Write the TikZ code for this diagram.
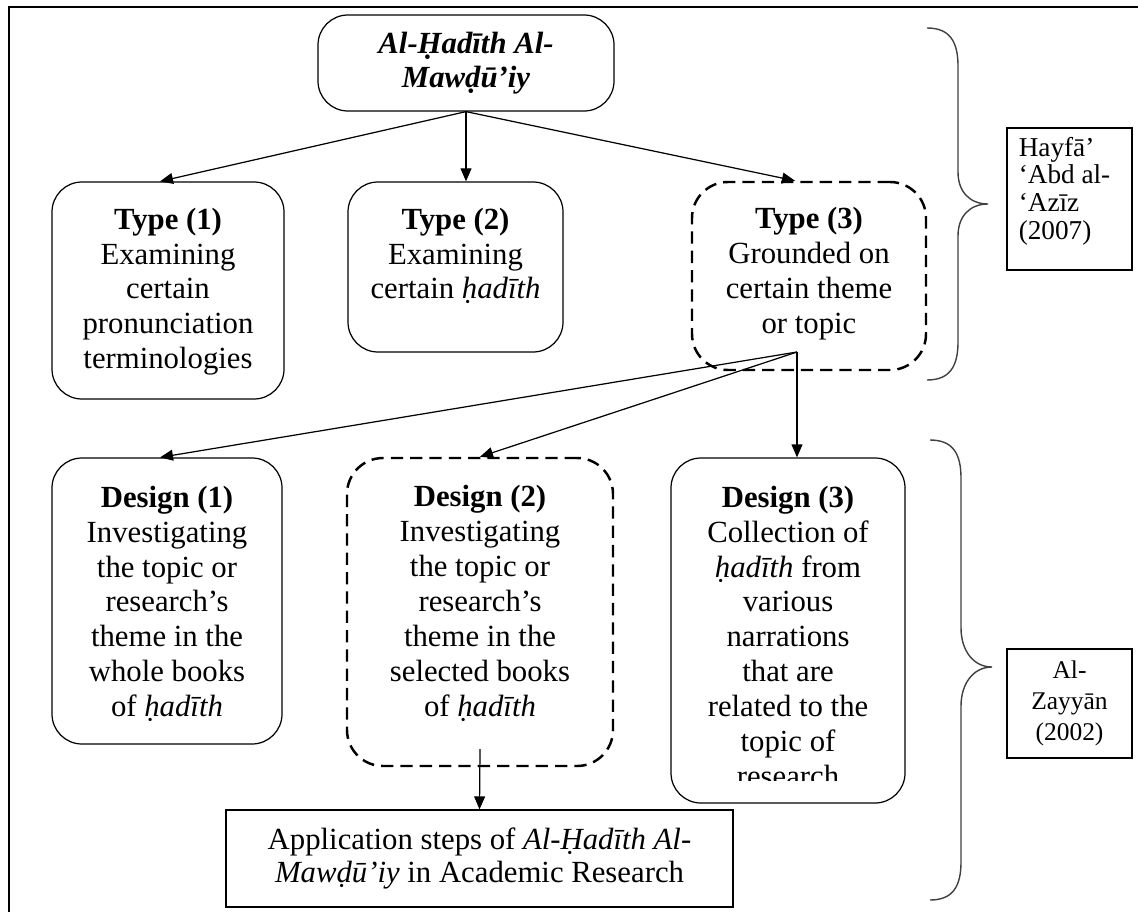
\documentclass[tikz,border=0pt]{standalone}
\usepackage{fontspec}
\setmainfont{Liberation Serif}
\usetikzlibrary{arrows.meta,positioning}
\newlength\pxu
\setlength\pxu{0.02cm}

\tikzset{
  box/.style={draw,line width=0.7pt,rounded corners=30\pxu,inner sep=0pt},
  dashbox/.style={box,line width=1.4pt,dash pattern=on 7pt off 4pt,rounded corners=36\pxu},
  txt/.style={align=center,inner sep=0pt,font=\fontsize{17.5}{19.9}\selectfont},
  citebox/.style={draw,line width=0.7pt,inner sep=0pt},
  citetxt/.style={inner sep=0pt,font=\fontsize{15.5}{15.8}\selectfont},
  link/.style={-{Triangle[length=7.4pt,width=6.2pt]},line width=0.7pt},
  brace/.style={line width=0.8pt,draw=black!75},
}

\begin{document}
\begin{tikzpicture}[x=0.02cm,y=-0.02cm]
\useasboundingbox (0,0) rectangle (1138,912);
% frame, open at right and bottom
\draw[line width=1.3pt] (9,912) -- (9,7) -- (1138,7);

% top of the tree
\node[box,minimum width=296\pxu,minimum height=96\pxu,align=center,
  font=\fontsize{17.5}{19.5}\selectfont\bfseries\itshape] (root) at (466,63) {Al-Ḥadīth Al-\\Mawḍū’iy};

% the three types
\node[box,minimum width=232\pxu,minimum height=217\pxu] (t1) at (168,290.5) {};
\node[txt,below=26\pxu of t1.north] (t1txt) {\textbf{Type (1)}\\Examining\\certain\\pronunciation\\terminologies};
\node[box,minimum width=215\pxu,minimum height=170\pxu] (t2) at (455.5,267) {};
\node[txt,below=26\pxu of t2.north] (t2txt) {\textbf{Type (2)}\\Examining\\certain \textit{ḥadīth}};
\node[dashbox,minimum width=234\pxu,minimum height=188\pxu] (t3) at (809,276) {};
\node[txt,below=26\pxu of t3.north] (t3txt) {\textbf{Type (3)}\\Grounded on\\certain theme\\or topic};

\draw[link] (root.south) -- ([xshift=-0.16cm]t1.north);
\draw[link] (root.south) -- (root.south |- t2.north);
\draw[link] (root.south) -- ([xshift=-0.28cm]t3.north);

% the three designs
\node[box,minimum width=230\pxu,minimum height=286\pxu] (d1) at (167,601) {};
\node[txt,below=28\pxu of d1.north] (d1txt) {\textbf{Design (1)}\\Investigating\\the topic or\\research’s\\theme in the\\whole books\\of \textit{ḥadīth}};
\node[dashbox,minimum width=266\pxu,minimum height=308\pxu] (d2) at (480,612) {};
\node[txt,below=28\pxu of d2.north] (d2txt) {\textbf{Design (2)}\\Investigating\\the topic or\\research’s\\theme in the\\selected books\\of \textit{ḥadīth}};
\node[box,minimum width=234\pxu,minimum height=345\pxu] (d3) at (788,630.5) {};
\begin{scope}
\clip (671,458) rectangle (905,780);
\node[txt,below=28\pxu of d3.north] (d3txt) {\textbf{Design (3)}\\Collection of\\\textit{ḥadīth} from\\various\\narrations\\that are\\related to the\\topic of\\research};
\end{scope}

\coordinate (fork) at (797,352);
\draw[link] (fork) -- ([xshift=-0.14cm]d1.north);
\draw[link] (fork) -- (d2.north);
\draw[link] (fork) -- (fork |- d3.north);

% result
\node[draw,line width=0.7pt,minimum width=507\pxu,minimum height=97\pxu,align=center,
  font=\fontsize{17.5}{18.8}\selectfont] (app) at (479.5,858.5) {Application steps of \textit{Al-Ḥadīth Al-}\\\textit{Mawḍū’iy} in Academic Research};
\draw[link] ([yshift=0.36cm]d2.south) -- (app.north);

% braces and sources
\draw[brace] (927,28) .. controls (950,28) and (958,42) .. (958,66) -- (958,172)
  .. controls (958,192) and (970,204) .. (988,204) .. controls (970,204) and (958,216) .. (958,236)
  -- (958,342) .. controls (958,366) and (950,380) .. (927,380);
\draw[brace] (930,440) .. controls (953,440) and (961,454) .. (961,478) -- (961,628)
  .. controls (961,650) and (973,667) .. (992,667) .. controls (973,667) and (961,684) .. (961,706)
  -- (961,862) .. controls (961,886) and (953,900) .. (930,900);

\node[citebox,minimum width=125\pxu,minimum height=142\pxu] (hayfa) at (1069.5,199) {};
\node[citetxt,align=left] (hayfatxt) at ([xshift=-0.1cm,yshift=0.16cm]hayfa.center) {Hayfā’\\‘Abd al-\\‘Azīz\\(2007)};
\node[citebox,minimum width=125\pxu,minimum height=109\pxu,align=center,
  font=\fontsize{14.5}{17.6}\selectfont] (zayyan) at (1069.5,703.5) {Al-\\Zayyān\\(2002)};
\end{tikzpicture}
\end{document}
